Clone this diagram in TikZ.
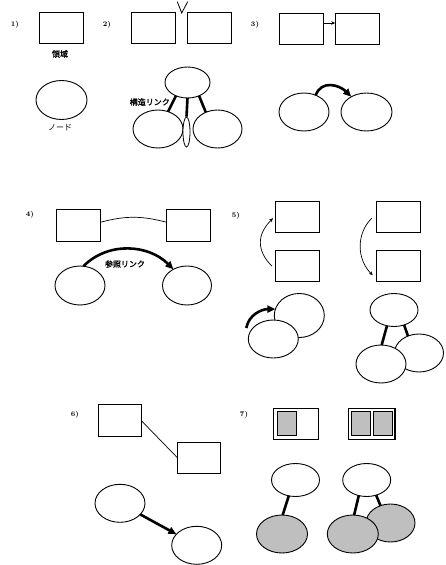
\documentclass[tikz,border=0pt]{standalone}
\usepackage{fontspec}
\newfontfamily\jp{Noto Sans CJK JP}
\newfontfamily\jpb{Noto Sans CJK JP}[FakeBold=1.5]
\usetikzlibrary{shapes.geometric,arrows.meta}
\begin{document}
\begin{tikzpicture}[x=1pt,y=1pt,
  box/.style={draw,line width=0.9pt,minimum width=44pt,minimum height=31pt,inner sep=0pt,outer sep=0pt},
  nd/.style={ellipse,draw,line width=0.9pt,fill=white,inner sep=0pt,outer sep=0pt,minimum width=50pt,minimum height=38pt},
  shd/.style={fill=gray!50},
  inbox/.style={draw,fill=gray!50,line width=0.9pt,minimum width=19pt,minimum height=24pt,inner sep=0pt},
  slink/.style={line width=2.6pt},
  fine/.style={line width=0.7pt},
  bigarrow/.style={-{Triangle[length=8pt,width=7pt]}},
  smallarrow/.style={-{Stealth[length=4pt,width=3.5pt]}},
  num/.style={font=\bfseries\fontsize{7}{8}\selectfont,inner sep=0pt},
  jlab/.style={font=\jpb\fontsize{8}{9}\selectfont,inner sep=0pt}
]
\useasboundingbox (0,0) rectangle (445,-565);
% 1
\node[num] (n1) at (15,-25) {1)};
\node[box] (r1) at (61,-28) {};
\node[jlab] (l1) at (60,-54) {領域};
\node[nd,minimum width=51pt,minimum height=39pt] (e1) at (61.5,-100) {};
\node[font=\jp\fontsize{8}{9}\selectfont,inner sep=0pt] (l2) at (60,-128) {ノード};
% 2
\node[num] (n2) at (107,-25) {2)};
\node[box] (r2a) at (153.5,-28) {};
\node[box] (r2b) at (209,-28) {};
\draw[line width=0.8pt] (177.3,-1.7) -- (181.7,-13) -- (187.7,-1.7);
\node[nd,minimum width=45pt,minimum height=31pt] (e2t) at (187.5,-82.5) {};
\node[nd] (e2l) at (158,-129) {};
\node[nd,minimum width=49pt] (e2r) at (217.5,-129) {};
\node[ellipse,draw,line width=0.8pt,fill=white,inner sep=0pt,minimum width=7pt,minimum height=30pt] (e2s) at (186.5,-132) {};
\draw[slink] (e2t.south) -- (e2s.north);
\draw[slink] (e2t.311) -- (e2r.125);
\draw[slink] (e2t.229) -- (e2l.60);
\node[jlab,anchor=east] (l3) at (170,-102) {構造リンク};
% 3
\node[num] (n3) at (255,-25) {3)};
\node[box] (r3a) at (301.3,-29) {};
\node[box] (r3b) at (357.3,-29) {};
\draw[fine,-{Stealth[length=4pt,width=3.5pt]}] ([yshift=6pt]r3a.east) -- ([yshift=6pt]r3b.west);
\node[nd] (e3a) at (304,-112) {};
\node[nd,minimum width=51pt] (e3b) at (366.5,-112) {};
\draw[slink,bigarrow] (e3a.55) to[out=70,in=135,looseness=1.2] (e3b.135);
% 4
\node[num] (n4) at (30,-215) {4)};
\node[box,minimum height=32pt] (r4a) at (78.3,-225.3) {};
\node[box,minimum height=32pt] (r4b) at (188.7,-225.3) {};
\draw[fine] ([yshift=3pt]r4a.east) to[bend left=15] ([yshift=3pt]r4b.west);
\node[nd,minimum height=39pt] (e4a) at (80,-285.5) {};
\node[nd,minimum width=49pt,minimum height=39pt] (e4b) at (187,-285.5) {};
\draw[slink,bigarrow] (e4a.80) to[out=45,in=135] (e4b.130);
\node[jlab] (l4) at (125,-264) {参照リンク};
% 5
\node[num] (n5) at (236,-216) {5)};
\node[box] (r5a) at (297,-217.2) {};
\node[box] (r5b) at (297,-266.2) {};
\node[box] (r5c) at (398.7,-217.2) {};
\node[box] (r5d) at (398.7,-266.2) {};
\draw[fine,smallarrow] ([xshift=-3pt]r5b.west) to[out=135,in=225,looseness=1.2] ([xshift=-2pt,yshift=-1pt]r5a.west);
\draw[fine,smallarrow] ([xshift=-5pt,yshift=-1pt]r5c.west) to[out=225,in=135] ([xshift=-4pt,yshift=-9pt]r5d.west);
\node[nd,minimum height=44pt] (e5a) at (299.3,-315.5) {};
\node[nd] (e5b) at (273.3,-339) {};
\draw[slink,bigarrow] ([shift={(-2,11)}]e5b.west) to[out=80,in=180] (e5a.165);
\node[nd,minimum width=49pt] (e5r) at (419,-353) {};
\node[nd] (e5l) at (381,-364) {};
\node[nd,minimum width=48pt,minimum height=33pt] (e5t) at (394,-310) {};
\draw[slink] (e5t.246) -- (e5l.88);
\draw[slink] (e5t.304) -- (e5r.123);
% 6
\node[num] (n6) at (75,-415) {6)};
\node[box,minimum width=43pt,minimum height=32pt] (r6a) at (120,-420.8) {};
\node[box,minimum width=43pt] (r6b) at (199,-457.8) {};
\draw[fine] (r6a.east) -- (r6b.west);
\node[nd] (e6a) at (120,-503.3) {};
\node[nd] (e6b) at (196.7,-545.3) {};
\draw[slink,bigarrow] (e6a) -- (e6b);
% 7
\node[num] (n7) at (244,-415) {7)};
\node[box,line width=1.4pt,minimum width=45pt] (r7a) at (295.8,-423.8) {};
\node[inbox] (i7a) at (287.3,-423.8) {};
\node[box,line width=1.4pt,minimum width=46.7pt] (r7b) at (371.7,-423.8) {};
\node[inbox] (i7b) at (361,-423.8) {};
\node[inbox] (i7c) at (382.6,-423.8) {};
\node[nd,minimum width=48pt,minimum height=33pt] (e7a) at (295.5,-480) {};
\node[nd,shd,minimum width=51pt] (e7b) at (282,-534) {};
\draw[slink] (e7a.247) -- (e7b.88);
\node[nd,minimum width=48pt,minimum height=33pt] (e7c) at (366.7,-480) {};
\node[nd,shd,minimum width=49pt] (e7e) at (390.5,-523) {};
\node[nd,shd,minimum width=51pt] (e7d) at (352.8,-534) {};
\draw[slink] (e7c.243) -- (e7d.86);
\draw[slink] (e7c.302) -- (e7e.120);
\end{tikzpicture}
\end{document}
